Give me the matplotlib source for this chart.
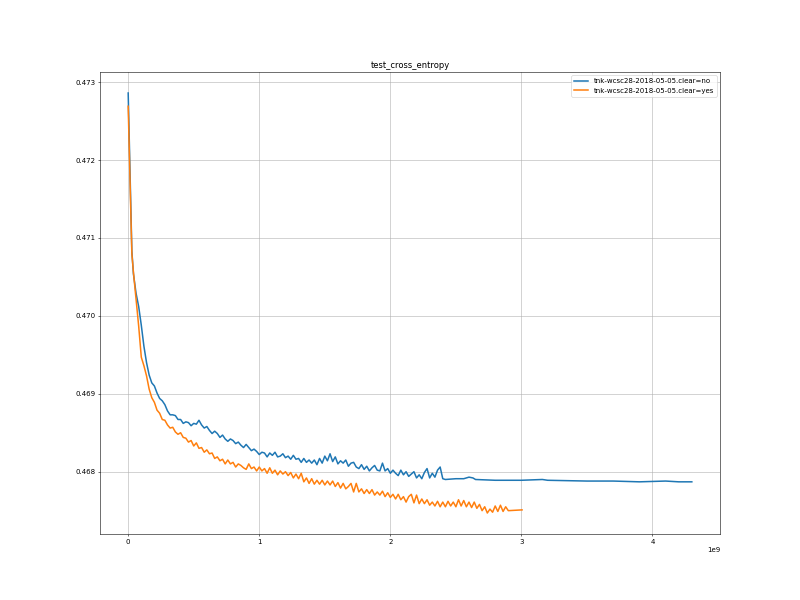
import matplotlib
matplotlib.use("Agg")
import matplotlib.pyplot as plt

# steps are in units of 1e9
early_steps = [0.0, 0.028, 0.04, 0.06, 0.08, 0.10, 0.12, 0.14, 0.16, 0.18]
grid_steps = [
    0.20, 0.22, 0.24, 0.26, 0.28, 0.30, 0.32, 0.34, 0.36, 0.38,
    0.40, 0.42, 0.44, 0.46, 0.48, 0.50, 0.52, 0.54, 0.56, 0.58,
    0.60, 0.62, 0.64, 0.66, 0.68, 0.70, 0.72, 0.74, 0.76, 0.78,
    0.80, 0.82, 0.84, 0.86, 0.88, 0.90, 0.92, 0.94, 0.96, 0.98,
    1.00, 1.02, 1.04, 1.06, 1.08, 1.10, 1.12, 1.14, 1.16, 1.18,
    1.20, 1.22, 1.24, 1.26, 1.28, 1.30, 1.32, 1.34, 1.36, 1.38,
    1.40, 1.42, 1.44, 1.46, 1.48, 1.50, 1.52, 1.54, 1.56, 1.58,
    1.60, 1.62, 1.64, 1.66, 1.68, 1.70, 1.72, 1.74, 1.76, 1.78,
    1.80, 1.82, 1.84, 1.86, 1.88, 1.90, 1.92, 1.94, 1.96, 1.98,
    2.00, 2.02, 2.04, 2.06, 2.08, 2.10, 2.12, 2.14, 2.16, 2.18,
    2.20, 2.22, 2.24, 2.26, 2.28, 2.30, 2.32, 2.34, 2.36, 2.38,
    2.40, 2.42, 2.44, 2.46, 2.48, 2.50, 2.52, 2.54, 2.56, 2.58,
    2.60, 2.62, 2.64, 2.66, 2.68, 2.70, 2.72, 2.74, 2.76, 2.78,
    2.80, 2.82, 2.84, 2.86, 2.88, 2.90,
]
blue_tail_steps = [2.42, 2.50, 2.56, 2.60, 2.63, 2.65, 2.80, 3.00,
                   3.16, 3.20, 3.50, 3.70, 3.90, 4.10, 4.20, 4.30]
orange_tail_steps = [3.005]

# clear=no
blue_early = [0.47286, 0.47083, 0.47054, 0.47029, 0.47012,
              0.46988, 0.46961, 0.46940, 0.46924, 0.46914]
blue_mid = [
    0.46910, 0.46901, 0.46894, 0.46891, 0.46886, 0.46878, 0.46873, 0.46873, 0.46872, 0.46867,
    0.46867, 0.46862, 0.46864, 0.46863, 0.46859, 0.46862, 0.46861, 0.46866, 0.46860, 0.46856,
    0.46858, 0.46853, 0.46849, 0.46852, 0.46849, 0.46844, 0.46847, 0.46842, 0.46839, 0.46842,
    0.46840, 0.46836, 0.46838, 0.46834, 0.46831, 0.46835, 0.46831, 0.46827, 0.46829, 0.46826,
    0.46822, 0.46825, 0.46824, 0.46819, 0.46824, 0.46821, 0.46825, 0.46819, 0.46820, 0.46823,
    0.46818, 0.46820, 0.46816, 0.46821, 0.46816, 0.46817, 0.46812, 0.46817, 0.46812, 0.46815,
    0.46811, 0.46815, 0.46809, 0.46817, 0.46811, 0.46820, 0.46814, 0.46823, 0.46813, 0.46819,
    0.46810, 0.46814, 0.46811, 0.46815, 0.46807, 0.46811, 0.46812, 0.46806, 0.46804, 0.46809,
    0.46803, 0.46807, 0.46801, 0.46805, 0.46808, 0.46802, 0.46801, 0.46811, 0.46801, 0.46804,
    0.46798, 0.46802, 0.46798, 0.46795, 0.46802, 0.46796, 0.46800, 0.46794, 0.46797, 0.46800,
    0.46792, 0.46796, 0.46791, 0.46799, 0.46804, 0.46792, 0.46798, 0.46793, 0.46802, 0.46806,
    0.46791,
]
blue_tail = [0.46790, 0.46791, 0.46791, 0.46793, 0.46792, 0.46790, 0.46789, 0.46789,
             0.46790, 0.46789, 0.46788, 0.46788, 0.46787, 0.46788, 0.46787, 0.46787]

# clear=yes
orange_early = [0.47269, 0.47080, 0.47056, 0.47021, 0.46987,
                0.46947, 0.46936, 0.46923, 0.46906, 0.46895]
orange_mid = [
    0.46889, 0.46879, 0.46875, 0.46867, 0.46866, 0.46860, 0.46856, 0.46857, 0.46851, 0.46848,
    0.46850, 0.46844, 0.46843, 0.46838, 0.46840, 0.46833, 0.46837, 0.46830, 0.46831, 0.46825,
    0.46828, 0.46823, 0.46824, 0.46817, 0.46819, 0.46814, 0.46816, 0.46810, 0.46815, 0.46810,
    0.46812, 0.46806, 0.46810, 0.46808, 0.46805, 0.46803, 0.46810, 0.46804, 0.46806, 0.46801,
    0.46806, 0.46801, 0.46804, 0.46798, 0.46805, 0.46798, 0.46802, 0.46796, 0.46801, 0.46797,
    0.46800, 0.46795, 0.46799, 0.46792, 0.46797, 0.46791, 0.46798, 0.46787, 0.46792, 0.46785,
    0.46791, 0.46784, 0.46789, 0.46784, 0.46789, 0.46783, 0.46788, 0.46783, 0.46788, 0.46781,
    0.46786, 0.46779, 0.46785, 0.46778, 0.46781, 0.46785, 0.46774, 0.46785, 0.46774, 0.46778,
    0.46772, 0.46777, 0.46772, 0.46777, 0.46770, 0.46774, 0.46770, 0.46775, 0.46768, 0.46773,
    0.46767, 0.46771, 0.46765, 0.46771, 0.46764, 0.46768, 0.46761, 0.46768, 0.46771, 0.46760,
    0.46770, 0.46759, 0.46765, 0.46759, 0.46764, 0.46757, 0.46761, 0.46756, 0.46762, 0.46755,
    0.46761, 0.46755, 0.46762, 0.46756, 0.46761, 0.46755, 0.46764, 0.46756, 0.46763, 0.46755,
    0.46761, 0.46754, 0.46761, 0.46753, 0.46758, 0.46750, 0.46755, 0.46747, 0.46752, 0.46748,
    0.46756, 0.46749, 0.46757, 0.46749, 0.46755, 0.46750,
]
orange_tail = [0.46751]

blue_x = early_steps + grid_steps[:len(blue_mid)] + blue_tail_steps
blue_y = blue_early + blue_mid + blue_tail
orange_x = early_steps + grid_steps[:len(orange_mid)] + orange_tail_steps
orange_y = orange_early + orange_mid + orange_tail

# original was drawn on a 16x12 inch canvas at 50 dpi
fig, ax = plt.subplots(figsize=(16, 12), dpi=50)
ax.plot([s * 1e9 for s in blue_x], blue_y, lw=2.2,
        label="tnk-wcsc28-2018-05-05.clear=no")
ax.plot([s * 1e9 for s in orange_x], orange_y, lw=2.2,
        label="tnk-wcsc28-2018-05-05.clear=yes")
ax.set_title("test_cross_entropy")
ax.grid(True)
ax.legend(loc="upper right")
fig.savefig("out.png", dpi=50)
